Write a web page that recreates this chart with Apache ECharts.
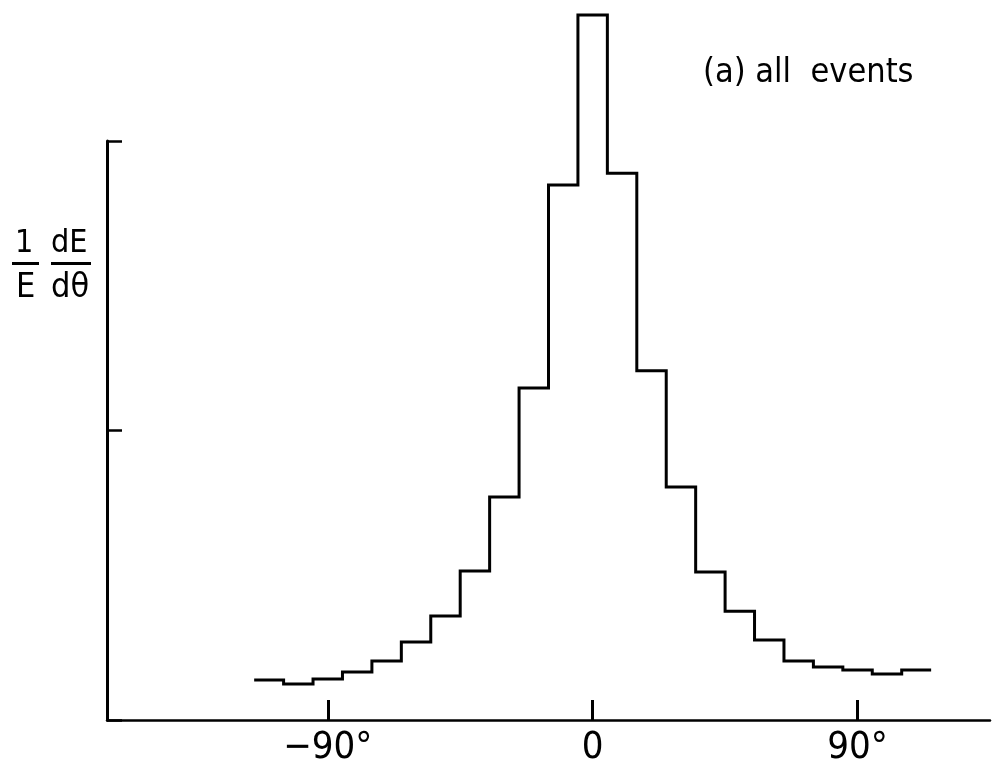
<!DOCTYPE html>
<html>
<head>
<meta charset="utf-8">
<script src="https://cdn.jsdelivr.net/npm/echarts@6/dist/echarts.min.js"></script>
<style>
  html, body { margin: 0; padding: 0; background: #fff; }
  #chart { width: 995px; height: 784px; }
</style>
</head>
<body>
<div id="chart"></div>
<script>
// 10 degree bins, left edges from -115 to 105, last right edge 115
const binEdges = [-115, -105, -95, -85, -75, -65, -55, -45, -35, -25, -15, -5,
  5, 15, 25, 35, 45, 55, 65, 75, 85, 95, 105, 115];
// 1/E dE/dθ (arbitrary units, axis ticks at 1 and 2)
const binValues = [0.138, 0.124, 0.142, 0.166, 0.204, 0.269, 0.359, 0.515, 0.770,
  1.147, 1.848, 2.435, 1.889, 1.206, 0.805, 0.511, 0.376, 0.276, 0.204, 0.183,
  0.173, 0.159, 0.173];
const xTicks = [-90, 0, 90];
const xTickLabels = ["\u221290\u00b0", "0", "90\u00b0"];
const yTicks = [0, 1, 2];

const FONT = "'Liberation Sans Narrow', 'DejaVu Sans Condensed', 'Liberation Sans', sans-serif";

// step line: each bin starts at its left edge, last point closes the right edge
const stepData = binValues.map((v, i) => [binEdges[i], v]);
stepData.push([binEdges[binEdges.length - 1], binValues[binValues.length - 1]]);

const chart = echarts.init(document.getElementById("chart"));

const option = {
  animation: false,
  backgroundColor: "#fff",
  grid: { left: 107, top: 141, width: 883, height: 579 },
  xAxis: {
    type: "value",
    min: -165,
    max: 135,
    splitLine: { show: false },
    axisLine: { onZero: false, lineStyle: { color: "#000", width: 2.5 } },
    axisTick: {
      inside: true,
      length: 20,
      customValues: xTicks,
      lineStyle: { color: "#000", width: 3 }
    },
    axisLabel: {
      customValues: xTicks,
      margin: 9,
      color: "#000",
      fontFamily: FONT,
      fontSize: 38,
      formatter: (v) => xTickLabels[xTicks.indexOf(v)]
    }
  },
  yAxis: {
    type: "value",
    min: 0,
    max: 2,
    interval: 1,
    splitLine: { show: false },
    axisLabel: { show: false },
    axisLine: { onZero: false, lineStyle: { color: "#000", width: 3 } },
    axisTick: {
      inside: true,
      length: 15,
      customValues: yTicks,
      lineStyle: { color: "#000", width: 2.5 }
    }
  },
  series: [
    {
      type: "line",
      step: "end",
      data: stepData,
      showSymbol: false,
      symbol: "none",
      clip: false,
      lineStyle: { color: "#000", width: 3, join: "miter" }
    }
  ],
  graphic: [
    // panel label
    {
      type: "text", left: 703, top: 56,
      style: { text: "(a) all  events", fill: "#000", font: "34px " + FONT }
    },
    // y axis name: 1/E dE/dθ
    {
      type: "text", left: 15, top: 228,
      style: { text: "1", fill: "#000", font: "32px " + FONT }
    },
    {
      type: "rect", shape: { x: 12, y: 262, width: 27, height: 3 },
      style: { fill: "#000" }
    },
    {
      type: "text", left: 16, top: 271,
      style: { text: "E", fill: "#000", font: "34px " + FONT }
    },
    {
      type: "text", left: 51, top: 228,
      style: { text: "dE", fill: "#000", font: "32px " + FONT }
    },
    {
      type: "rect", shape: { x: 51, y: 262, width: 40, height: 3 },
      style: { fill: "#000" }
    },
    {
      type: "text", left: 51, top: 271,
      style: { text: "d\u03b8", fill: "#000", font: "34px " + FONT }
    }
  ]
};

chart.setOption(option);
</script>
</body>
</html>
